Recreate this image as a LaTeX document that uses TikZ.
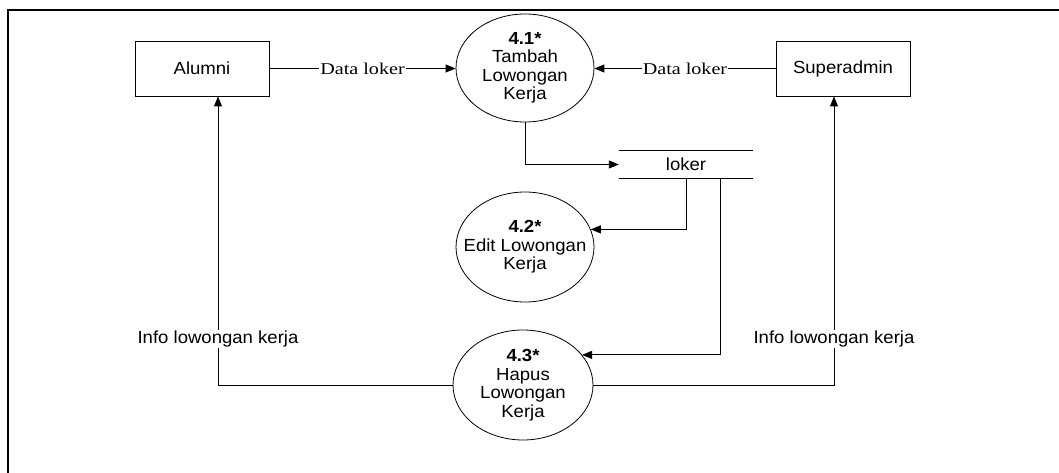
\documentclass[tikz,border=0pt]{standalone}
\usepackage{fontspec}
\setmainfont[FakeStretch=1.06]{Liberation Sans}
\newfontfamily\lblserif[FakeStretch=1.22]{Liberation Serif}
\usetikzlibrary{shapes.geometric,arrows.meta}
\begin{document}
\begin{tikzpicture}[x=1pt,y=-1pt,
  every node/.style={font=\fontsize{17.5}{18.5}\selectfont},
  entity/.style={draw,line width=0.9pt,minimum width=134pt,minimum height=55pt,inner sep=0pt},
  proc/.style={draw,ellipse,line width=0.8pt,inner xsep=-20pt,inner ysep=-8pt,align=center},
  store/.style={minimum width=134pt,minimum height=27pt,inner sep=0pt},
  flow/.style={line width=0.9pt,-{Triangle[length=10pt,width=8pt]}},
  lbl/.style={fill=white,inner sep=1pt},
  dlbl/.style={fill=white,inner sep=1pt,font=\lblserif\fontsize{16.5}{18}\selectfont}]
\useasboundingbox (0,0) rectangle (1059,473);
% frame (only top and left edges visible)
\coordinate (ftl) at (8,10);
\coordinate (ftr) at (1059,10);
\coordinate (fbl) at (8,473);
\draw[line width=1.5pt] (ftr) -- (ftl) -- (fbl);

\node[entity] (alumni) at (202,68.5) {Alumni};
\node[entity] (superadmin) at (843,68.5) {Superadmin};

\node[proc,minimum width=138pt,minimum height=108pt] (p41) at (525,68)
  {\textbf{4.1*}\\Tambah\\Lowongan\\Kerja};
\node[proc,minimum width=138pt,minimum height=110pt] (p42) at (525,247)
  {\textbf{4.2*}\\Edit Lowongan\\Kerja};
\node[proc,minimum width=140pt,minimum height=110pt] (p43) at (523,385)
  {\textbf{4.3*}\\Hapus\\Lowongan\\Kerja};

\node[store] (loker) at (686,164.5) {loker};
\draw[line width=0.9pt] (loker.north west) -- (loker.north east);
\draw[line width=0.9pt] (loker.south west) -- (loker.south east);

\draw[flow] (alumni.east) -- node[dlbl] {Data loker} (p41.west |- alumni.east);
\draw[flow] (superadmin.west) -- node[dlbl] {Data loker} (p41.east |- superadmin.west);
\draw[flow] (p41.south) |- (loker.west);
\draw[flow] (loker.south) |- (p42.15);
\draw[flow] ([xshift=34pt]loker.south) |- (p43.27);
\draw[flow] (p43.east) -| node[lbl,pos=0.58] {Info lowongan kerja} ([xshift=-9pt]superadmin.south);
\draw[flow] (p43.west) -| node[lbl,pos=0.58] {Info lowongan kerja} ([xshift=16pt]alumni.south);
\end{tikzpicture}
\end{document}
